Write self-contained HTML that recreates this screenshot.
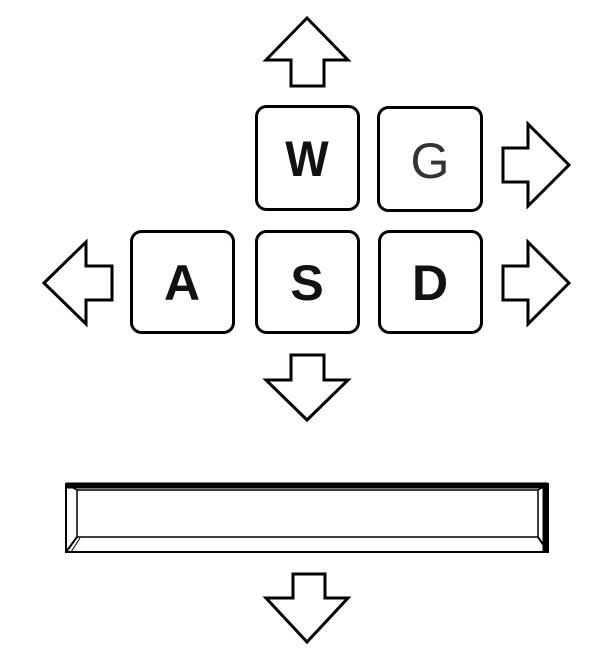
<!DOCTYPE html>
<html><head><style>
body{margin:0;background:#fff;width:614px;height:666px;overflow:hidden}
svg{display:block}
text{font-family:"Liberation Sans",sans-serif;font-size:50px;text-anchor:middle}
</style></head><body>
<svg width="614" height="666" viewBox="0 0 614 666">
<g fill="#fff" stroke="#000" stroke-width="3" stroke-linejoin="miter">
<polygon points="307,18 348,60 324,60 324,86 291,86 291,60 266,60"/>
<polygon points="569,165 528,124 528,148 503,148 503,182 528,182 528,206"/>
<polygon points="569,283 528,242 528,266 503,266 503,300 528,300 528,324"/>
<polygon points="44,283 86,242 86,266 112,266 112,300 86,300 86,324"/>
<polygon points="307,420 348,380 324,380 324,355 291,355 291,380 266,380"/>
<polygon points="307,642 348,598 325,598 325,574 293,574 293,598 266,598"/>
<rect x="256.5" y="106.5" width="102" height="103" rx="10"/>
<rect x="378.5" y="107.5" width="103" height="103" rx="10"/>
<rect x="131.5" y="231.5" width="102" height="101" rx="10"/>
<rect x="256.5" y="231.5" width="102" height="101" rx="10"/>
<rect x="379.5" y="231.5" width="102" height="101" rx="10"/>
</g>
<g font-weight="bold" fill="#111">
<text x="307" y="176" transform="translate(307 0) scale(0.92 1) translate(-307 0)">W</text>
<text x="182" y="300">A</text>
<text x="307" y="300">S</text>
<text x="430" y="300">D</text>
</g>
<text x="430" y="178" fill="#333" font-size="54">G</text>
<g fill="none" stroke="#000">
<rect x="66" y="484" width="482" height="68" stroke-width="2"/>
<line x1="66" y1="485.5" x2="548" y2="485.5" stroke-width="6"/>
<line x1="545.5" y1="484" x2="545.5" y2="552" stroke-width="6"/>
<rect x="77" y="490" width="461" height="47" stroke-width="1.5"/>
<line x1="66" y1="484" x2="77" y2="490" stroke-width="1.5"/>
<line x1="66" y1="552" x2="77" y2="537" stroke-width="2"/>
<line x1="71" y1="552" x2="80" y2="538" stroke-width="1"/>
<line x1="548" y1="552" x2="538" y2="537" stroke-width="2"/>
<line x1="548" y1="484" x2="538" y2="490" stroke-width="1.5"/>
</g>
</svg>
</body></html>
